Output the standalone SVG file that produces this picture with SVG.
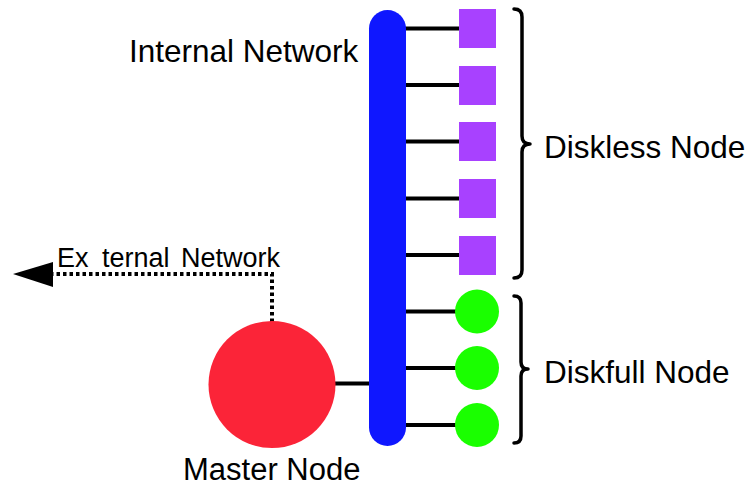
<svg xmlns="http://www.w3.org/2000/svg" width="752" height="487" viewBox="0 0 752 487">
<style>
.lbl{font-family:"Liberation Sans",Arial,sans-serif;font-size:31.5px;fill:#000}
.ext{font-family:"Liberation Sans",Arial,sans-serif;font-size:27px;fill:#000}
.link{stroke:#000;stroke-width:4;fill:none}
.brace{stroke:#000;stroke-width:3.5;fill:none;stroke-linecap:round;stroke-linejoin:round}
.sq{fill:#A841FF}
.gc{fill:#1AFF00}
</style>
<rect width="752" height="487" fill="#fff"/>
<g id="connectors">
<line class="link" x1="400" y1="28.5" x2="460" y2="28.5"/>
<line class="link" x1="400" y1="85" x2="460" y2="85"/>
<line class="link" x1="400" y1="141.5" x2="460" y2="141.5"/>
<line class="link" x1="400" y1="198.5" x2="460" y2="198.5"/>
<line class="link" x1="400" y1="255" x2="460" y2="255"/>
<line class="link" x1="400" y1="311.5" x2="460" y2="311.5"/>
<line class="link" x1="400" y1="368" x2="460" y2="368"/>
<line class="link" x1="400" y1="425" x2="460" y2="425"/>
<line class="link" x1="330" y1="383.5" x2="375" y2="383.5"/>
<path d="M272,322 V274 H50" stroke="#000" stroke-width="4" fill="none" stroke-dasharray="3.5 3"/>
<polygon points="13,274 53,262 53,287" fill="#000"/>
</g>
<g id="internal-network">
<rect x="369" y="10" width="37" height="436" rx="18.5" ry="18.5" fill="#0F17FF"/>
<text class="lbl" x="129" y="62">Internal Network</text>
</g>
<g id="diskless-nodes">
<rect class="sq" x="459" y="9" width="37" height="39"/>
<rect class="sq" x="459" y="66" width="37" height="39"/>
<rect class="sq" x="459" y="122" width="37" height="39"/>
<rect class="sq" x="459" y="179" width="37" height="39"/>
<rect class="sq" x="459" y="236" width="37" height="39"/>
<path class="brace" d="M514,9 Q522,9 522,17 V136 Q522,144 530,144 Q522,144 522,152 V270 Q522,278 514,278"/>
<text class="lbl" x="544" y="158">Diskless Node</text>
</g>
<g id="diskfull-nodes">
<circle class="gc" cx="477" cy="311.5" r="22"/>
<circle class="gc" cx="477" cy="368" r="22"/>
<circle class="gc" cx="477" cy="425" r="22"/>
<path class="brace" d="M514,296 Q521,296 521,303 V362 Q521,369 528,369 Q521,369 521,376 V436 Q521,443 514,443"/>
<text class="lbl" x="544" y="383">Diskfull Node</text>
</g>
<g id="master-node">
<circle cx="272" cy="384.5" r="63.5" fill="#FB2438"/>
<text class="lbl" x="183" y="480" style="font-size:31px">Master Node</text>
</g>
<g id="external-network">
<text class="ext" y="267"><tspan x="57">Ex</tspan> <tspan x="102">ternal</tspan> <tspan x="181">Network</tspan></text>
</g>
</svg>
